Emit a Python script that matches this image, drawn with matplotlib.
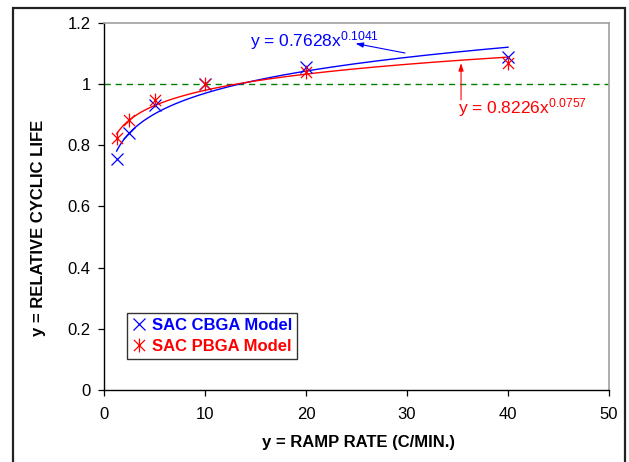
import numpy as np
import matplotlib
matplotlib.use("Agg")
import matplotlib.pyplot as plt
from matplotlib.path import Path
from matplotlib.patches import Rectangle

plt.rcParams['font.family'] = ['Liberation Sans', 'DejaVu Sans']
plt.rcParams['mathtext.default'] = 'regular'

# Ramp rate (C/min) and relative cyclic life for each package model
ramp_rate = [1.25, 2.5, 5, 10, 20, 40]
cbga_life = [0.754, 0.839, 0.931, 1.0, 1.056, 1.087]
pbga_life = [0.822, 0.882, 0.947, 1.0, 1.040, 1.067]

# Power-law trend fits: y = a * x^b
cbga_fit = (0.7628, 0.1041)
pbga_fit = (0.8226, 0.0757)

x_ticks = [0, 10, 20, 30, 40, 50]
y_ticks = [0, 0.2, 0.4, 0.6, 0.8, 1.0, 1.2]
y_ticklabels = ['0', '0.2', '0.4', '0.6', '0.8', '1', '1.2']

BLUE = '#0000ff'
RED = '#ff0000'

# Excel-style star marker: an X with a vertical bar through it
star = Path([(-1, -1), (1, 1), (-1, 1), (1, -1), (0, -1.25), (0, 1.25)],
            [Path.MOVETO, Path.LINETO, Path.MOVETO, Path.LINETO,
             Path.MOVETO, Path.LINETO])

W, H = 629, 462
fig = plt.figure(figsize=(W / 100, H / 100), dpi=100)
ax = fig.add_axes([104 / W, 1 - 390 / H, 505 / W, 367.3 / H])

# outer chart frame
fig.patches.append(Rectangle((13 / W, -0.05), 612 / W, 1.05 - 8 / H,
                             transform=fig.transFigure, fill=False,
                             edgecolor='#222222', linewidth=1.6))

xf = np.linspace(ramp_rate[0], ramp_rate[-1], 300)
ax.plot(xf, cbga_fit[0] * xf ** cbga_fit[1], color=BLUE, lw=1.0, zorder=3)
ax.plot(xf, pbga_fit[0] * xf ** pbga_fit[1], color=RED, lw=1.0, zorder=3)

ax.axhline(1.0, color='#008000', lw=1.0, dashes=(4.5, 3.5), zorder=2)

ax.plot(ramp_rate, cbga_life, linestyle='none', marker='x', ms=9, mew=0.9,
        color=BLUE, label='SAC CBGA Model', zorder=4)
ax.plot(ramp_rate, pbga_life, linestyle='none', marker=star, ms=10, mew=0.9,
        color=RED, label='SAC PBGA Model', zorder=5)

# equation callouts
ax.annotate('', xy=(24.9, 1.132), xytext=(29.8, 1.101),
            arrowprops=dict(arrowstyle='-|>,head_length=0.45,head_width=0.15',
                            color=BLUE, lw=0.8, shrinkA=0, shrinkB=0))
ax.text(14.45, 1.1215, r'y = 0.7628x$^{0.1041}$', color=BLUE, fontsize=12.5,
        ha='left', va='baseline')

ax.annotate('', xy=(35.35, 1.068), xytext=(35.35, 0.948),
            arrowprops=dict(arrowstyle='-|>,head_length=0.45,head_width=0.15',
                            color=RED, lw=0.8, shrinkA=0, shrinkB=0))
ax.text(35.05, 0.904, r'y = 0.8226x$^{0.0757}$', color=RED, fontsize=12.5,
        ha='left', va='baseline')

ax.set_xlim(0, 50)
ax.set_ylim(0, 1.2)
ax.set_xticks(x_ticks)
ax.set_yticks(y_ticks)
ax.set_yticklabels(y_ticklabels)
ax.tick_params(axis='both', direction='out', length=4.5, width=0.9,
               labelsize=12, colors='black')
ax.tick_params(axis='x', pad=8)
ax.tick_params(axis='y', pad=5)

for side in ('left', 'bottom'):
    ax.spines[side].set_color('black')
    ax.spines[side].set_linewidth(1.0)
for side in ('top', 'right'):
    ax.spines[side].set_color('#a0a0a0')
    ax.spines[side].set_linewidth(1.2)

fig.text(358 / W, 1 - 443 / H, 'y = RAMP RATE (C/MIN.)', fontsize=12,
         fontweight='bold', ha='center', va='center')
fig.text(39 / W, 1 - 228 / H, 'y = RELATIVE CYCLIC LIFE', fontsize=12,
         fontweight='bold', ha='center', va='center', rotation=90)

leg = ax.legend(loc='upper left',
                bbox_to_anchor=((127 - 104) / 505, (390 - 313) / 367.3),
                borderaxespad=0, fancybox=False, framealpha=1,
                edgecolor='#333333', handlelength=0.9, handletextpad=0.3,
                borderpad=0.3, labelspacing=0.35,
                prop={'size': 12, 'weight': 'bold'})
leg.get_frame().set_linewidth(1.0)
for txt, c in zip(leg.get_texts(), (BLUE, RED)):
    txt.set_color(c)

fig.savefig('out.png', dpi=100)
